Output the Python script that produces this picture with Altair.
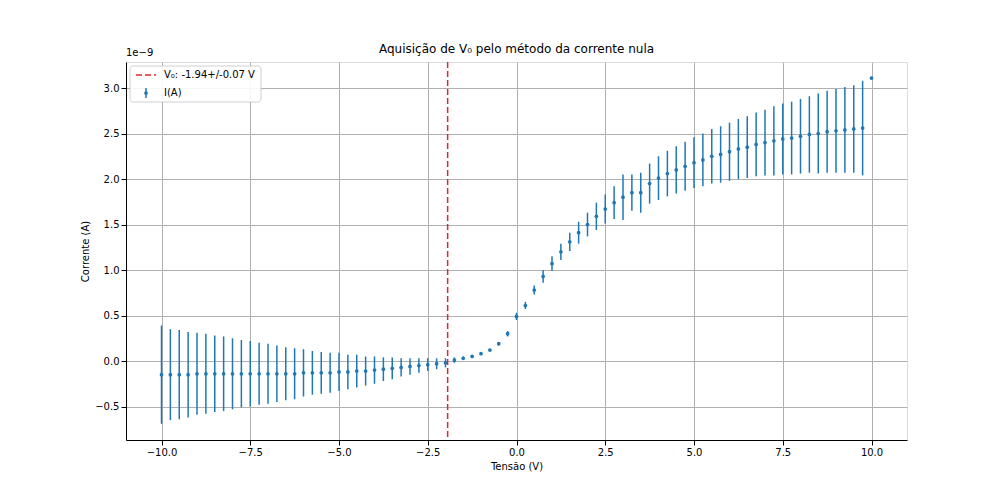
import altair as alt
import pandas as pd

# tension (V), current (units of 1e-9 A), error (1e-9 A)
tensao = [i * 0.25 - 10 for i in range(81)]
corrente = [
    -0.15, -0.15, -0.15, -0.15, -0.14, -0.14, -0.14, -0.14, -0.14, -0.14,
    -0.14, -0.14, -0.14, -0.14, -0.14, -0.14, -0.13, -0.13, -0.13, -0.13,
    -0.12, -0.12, -0.11, -0.11, -0.10, -0.09, -0.08, -0.07, -0.06, -0.05,
    -0.04, -0.03, -0.02, 0.01, 0.03, 0.05, 0.08, 0.12, 0.19, 0.30,
    0.49, 0.61, 0.78, 0.93, 1.07, 1.20, 1.31, 1.41, 1.50, 1.59,
    1.67, 1.74, 1.80, 1.85, 1.85, 1.95, 2.01, 2.06, 2.10, 2.14,
    2.18, 2.21, 2.25, 2.27, 2.30, 2.33, 2.35, 2.38, 2.40, 2.42,
    2.44, 2.45, 2.47, 2.49, 2.50, 2.52, 2.53, 2.54, 2.55, 2.56, 3.11,
]
erro = [
    0.54, 0.50, 0.49, 0.47, 0.45, 0.44, 0.42, 0.41, 0.39, 0.37,
    0.36, 0.34, 0.33, 0.31, 0.29, 0.28, 0.26, 0.24, 0.23, 0.22,
    0.21, 0.19, 0.18, 0.16, 0.15, 0.13, 0.12, 0.10, 0.09, 0.08,
    0.07, 0.06, 0.05, 0.03, 0.02, 0.01, 0.01, 0.01, 0.02, 0.03,
    0.04, 0.04, 0.05, 0.07, 0.08, 0.09, 0.10, 0.12, 0.13, 0.15,
    0.16, 0.18, 0.25, 0.20, 0.22, 0.22, 0.24, 0.25, 0.26, 0.27,
    0.28, 0.29, 0.30, 0.31, 0.32, 0.33, 0.34, 0.35, 0.36, 0.38,
    0.39, 0.40, 0.41, 0.42, 0.44, 0.45, 0.46, 0.47, 0.48, 0.52, 0.0,
]
v0 = -1.94

df = pd.DataFrame({"x": tensao, "y": corrente, "e": erro})
df["lo"] = df["y"] - df["e"]
df["hi"] = df["y"] + df["e"]

BLUE = "#1f77b4"
RED = "#e3262a"
FONT = "DejaVu Sans"

xs = alt.Scale(domain=[-11, 11], nice=False, zero=False)
ys = alt.Scale(domain=[-0.868, 3.286], nice=False, zero=False)
ax_x = alt.Axis(values=[-10, -7.5, -5, -2.5, 0, 2.5, 5, 7.5, 10], format=".1f",
                title="Tensão (V)", labelFont=FONT, titleFont=FONT, labelFontSize=10,
                titleFontSize=10, titleFontWeight="normal", labelColor="black",
                titleColor="black", gridColor="#b0b0b0", tickColor="black", domainColor="black")
ax_y = alt.Axis(values=[-0.5, 0, 0.5, 1, 1.5, 2, 2.5, 3], format=".1f",
                title="Corrente (A)", labelFont=FONT, titleFont=FONT, labelFontSize=10,
                titleFontSize=10, titleFontWeight="normal", labelColor="black",
                titleColor="black", gridColor="#b0b0b0", tickColor="black", domainColor="black")

base = alt.Chart(df)
bars = base.mark_rule(color=BLUE, strokeWidth=1.5).encode(
    x=alt.X("x:Q", scale=xs, axis=ax_x),
    y=alt.Y("lo:Q", scale=ys, axis=ax_y),
    y2="hi:Q",
)
pts = base.mark_circle(color=BLUE, size=14, opacity=1).encode(
    x=alt.X("x:Q", scale=xs), y=alt.Y("y:Q", scale=ys)
)
vline = alt.Chart(pd.DataFrame({"v": [v0]})).mark_rule(
    color=RED, strokeDash=[6, 3], strokeWidth=1.5
).encode(x=alt.X("v:Q", scale=xs))

# legend box
box = alt.Chart(pd.DataFrame({"a": [0]})).mark_rect(
    fill="white", stroke="#cccccc", cornerRadius=3, opacity=0.9
).encode(x=alt.value(4), x2=alt.value(135), y=alt.value(4), y2=alt.value(40))
leg_line = alt.Chart(pd.DataFrame({"a": [0]})).mark_rule(
    color=RED, strokeDash=[6, 3], strokeWidth=1.5
).encode(x=alt.value(10), x2=alt.value(30), y=alt.value(13))
leg_err = alt.Chart(pd.DataFrame({"a": [0]})).mark_rule(color=BLUE, strokeWidth=1.5).encode(
    x=alt.value(20), y=alt.value(26), y2=alt.value(36))
leg_pt = alt.Chart(pd.DataFrame({"a": [0]})).mark_circle(color=BLUE, size=14, opacity=1).encode(
    x=alt.value(20), y=alt.value(31))
leg_txt = alt.Chart(pd.DataFrame({"t": [f"V₀: {v0}+/-0.07 V", "I(A)"], "yy": [13, 31]})).mark_text(
    align="left", baseline="middle", font=FONT, fontSize=10, color="black"
).encode(x=alt.value(38), y=alt.Y("yy:Q", scale=None), text="t:N")
expo = alt.Chart(pd.DataFrame({"a": [0]})).mark_text(
    text="1e−9", align="left", baseline="bottom", font=FONT, fontSize=10, color="black"
).encode(x=alt.value(0), y=alt.value(-4))

chart = alt.layer(bars, pts, vline, box, leg_line, leg_err, leg_pt, leg_txt, expo).properties(
    width=781, height=378,
    autosize=alt.AutoSizeParams(type="none"),
    padding={"left": 118, "top": 54, "right": 90, "bottom": 50},
    title=alt.TitleParams("Aquisição de V₀ pelo método da corrente nula", font=FONT,
                          fontSize=12, fontWeight="normal", color="black", offset=6, dy=14),
).configure_view(stroke="black", strokeWidth=1).configure(background="white")

chart.save("out.html", embed_options={"renderer": "svg", "actions": False})
